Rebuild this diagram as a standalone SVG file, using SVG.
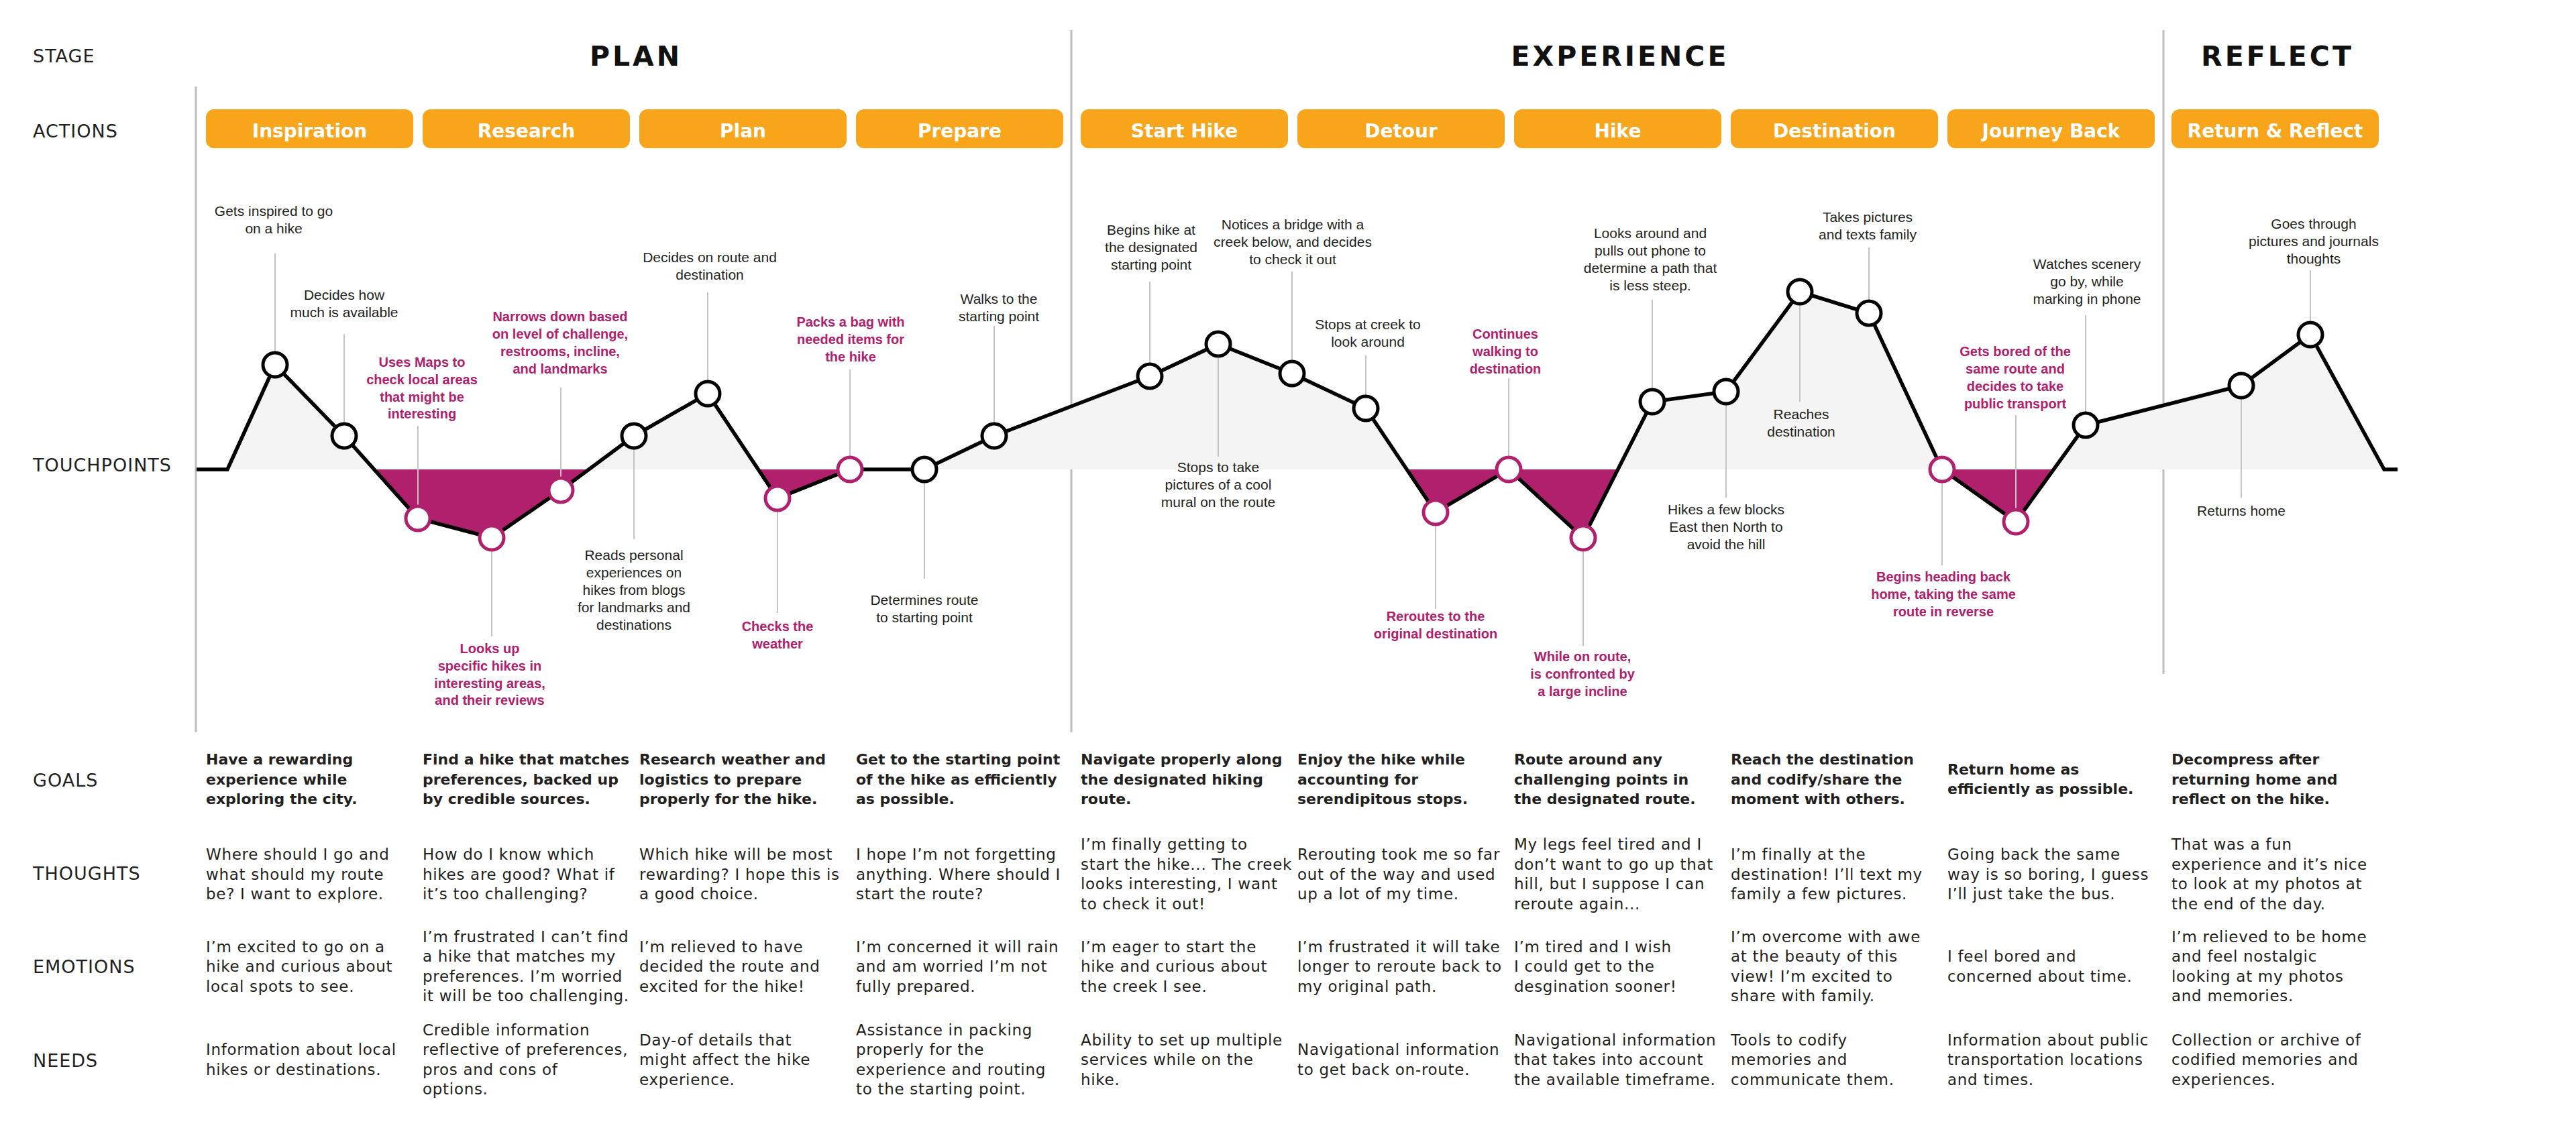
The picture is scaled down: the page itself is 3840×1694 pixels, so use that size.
<svg xmlns="http://www.w3.org/2000/svg" width="3840" height="1694" viewBox="0 0 3840 1694">
<defs>
<style>
.row{font-family:"DejaVu Sans",sans-serif;font-size:27px;fill:#231f20;letter-spacing:1px}
.stage{font-family:"DejaVu Sans",sans-serif;font-weight:bold;font-size:41px;letter-spacing:4px;text-anchor:middle;fill:#111}
.box{fill:#F8A51B}
.boxt{font-family:"DejaVu Sans",sans-serif;font-weight:bold;font-size:28px;fill:#fff;text-anchor:middle}
.div{stroke:#bcbdbf;stroke-width:3;fill:none}
.lead{stroke:#c4c4c4;stroke-width:2;fill:none}
.lb{font-family:"Liberation Sans",Arial,sans-serif;font-size:21px;fill:#231f20;text-anchor:middle}
.lp{font-family:"Liberation Sans",Arial,sans-serif;font-weight:bold;font-size:20px;fill:#B0206C;text-anchor:middle}
.nb{fill:#fff;stroke:#000;stroke-width:5}
.np{fill:#fff;stroke:#B0206C;stroke-width:5}
.gl{font-family:"DejaVu Sans",sans-serif;font-weight:bold;font-size:22px;fill:#231f20}
.tx{font-family:"DejaVu Sans",sans-serif;font-size:23px;letter-spacing:0.7px;fill:#231f20}
</style>
<clipPath id="above"><rect x="0" y="0" width="3840" height="700"/></clipPath>
<clipPath id="below"><rect x="0" y="700" width="3840" height="400"/></clipPath>
</defs>
<rect width="3840" height="1694" fill="#fff"/>

<g id="row-labels">
<text class="row" x="49" y="93">STAGE</text>
<text class="row" x="49" y="205">ACTIONS</text>
<text class="row" x="49" y="703">TOUCHPOINTS</text>
<text class="row" x="49" y="1173">GOALS</text>
<text class="row" x="49" y="1312">THOUGHTS</text>
<text class="row" x="49" y="1451">EMOTIONS</text>
<text class="row" x="49" y="1591">NEEDS</text>
</g>

<g id="stages">
<text id="stage-plan" class="stage" x="948" y="98">PLAN</text>
<text id="stage-experience" class="stage" x="2415" y="98">EXPERIENCE</text>
<text id="stage-reflect" class="stage" x="3395" y="98">REFLECT</text>
</g>

<g id="dividers">
<line class="div" x1="292" y1="129" x2="292" y2="1092"/>
<line class="div" x1="1597" y1="45" x2="1597" y2="1092"/>
<line class="div" x1="3225" y1="45" x2="3225" y2="1005"/>
</g>

<g id="actions">
<g id="action-inspiration"><rect class="box" x="307" y="163" width="309" height="58" rx="12"/><text class="boxt" x="461.5" y="205">Inspiration</text></g>
<g id="action-research"><rect class="box" x="630" y="163" width="309" height="58" rx="12"/><text class="boxt" x="784.5" y="205">Research</text></g>
<g id="action-plan"><rect class="box" x="953" y="163" width="309" height="58" rx="12"/><text class="boxt" x="1107.5" y="205">Plan</text></g>
<g id="action-prepare"><rect class="box" x="1276" y="163" width="309" height="58" rx="12"/><text class="boxt" x="1430.5" y="205">Prepare</text></g>
<g id="action-start-hike"><rect class="box" x="1611" y="163" width="309" height="58" rx="12"/><text class="boxt" x="1765.5" y="205">Start Hike</text></g>
<g id="action-detour"><rect class="box" x="1934" y="163" width="309" height="58" rx="12"/><text class="boxt" x="2088.5" y="205">Detour</text></g>
<g id="action-hike"><rect class="box" x="2257" y="163" width="309" height="58" rx="12"/><text class="boxt" x="2411.5" y="205">Hike</text></g>
<g id="action-destination"><rect class="box" x="2580" y="163" width="309" height="58" rx="12"/><text class="boxt" x="2734.5" y="205">Destination</text></g>
<g id="action-journey-back"><rect class="box" x="2903" y="163" width="309" height="58" rx="12"/><text class="boxt" x="3057.5" y="205">Journey Back</text></g>
<g id="action-return-reflect"><rect class="box" x="3237" y="163" width="309" height="58" rx="12"/><text class="boxt" x="3391.5" y="205">Return &amp; Reflect</text></g>
</g>

<g id="journey-fill">
<polygon clip-path="url(#above)" fill="#F3F4F3" points="293,700 339,700 410,544 513,650 623,773 733,802 836,731 945,650 1055,587 1159,743 1267,700 1378,700 1482,650 1714,561 1816,513 1926,557 2036,609 2140,764 2249,700 2360,802 2463,599 2573,584 2683,435 2786,467 2895,700 3005,778 3109,634 3341,575 3444,499 3554,700 3574,700"/>
<polygon clip-path="url(#below)" fill="#B0206C" points="293,700 339,700 410,544 513,650 623,773 733,802 836,731 945,650 1055,587 1159,743 1267,700 1378,700 1482,650 1714,561 1816,513 1926,557 2036,609 2140,764 2249,700 2360,802 2463,599 2573,584 2683,435 2786,467 2895,700 3005,778 3109,634 3341,575 3444,499 3554,700 3574,700"/>
</g>

<g id="connectors">
<line class="lead" x1="410" y1="378" x2="410" y2="524"/>
<line class="lead" x1="513" y1="498" x2="513" y2="630"/>
<line class="lead" x1="623" y1="635" x2="623" y2="753"/>
<line class="lead" x1="733" y1="822" x2="733" y2="949"/>
<line class="lead" x1="836" y1="578" x2="836" y2="711"/>
<line class="lead" x1="945" y1="670" x2="945" y2="804"/>
<line class="lead" x1="1055" y1="436" x2="1055" y2="567"/>
<line class="lead" x1="1159" y1="763" x2="1159" y2="914"/>
<line class="lead" x1="1267" y1="551" x2="1267" y2="680"/>
<line class="lead" x1="1378" y1="720" x2="1378" y2="863"/>
<line class="lead" x1="1482" y1="486" x2="1482" y2="630"/>
<line class="lead" x1="1714" y1="420" x2="1714" y2="541"/>
<line class="lead" x1="1816" y1="533" x2="1816" y2="681"/>
<line class="lead" x1="1926" y1="405" x2="1926" y2="537"/>
<line class="lead" x1="2036" y1="530" x2="2036" y2="589"/>
<line class="lead" x1="2140" y1="784" x2="2140" y2="908"/>
<line class="lead" x1="2249" y1="564" x2="2249" y2="680"/>
<line class="lead" x1="2360" y1="822" x2="2360" y2="963"/>
<line class="lead" x1="2463" y1="447" x2="2463" y2="579"/>
<line class="lead" x1="2573" y1="604" x2="2573" y2="742"/>
<line class="lead" x1="2683" y1="455" x2="2683" y2="599"/>
<line class="lead" x1="2786" y1="369" x2="2786" y2="447"/>
<line class="lead" x1="2895" y1="720" x2="2895" y2="843"/>
<line class="lead" x1="3005" y1="619" x2="3005" y2="758"/>
<line class="lead" x1="3109" y1="470" x2="3109" y2="614"/>
<line class="lead" x1="3341" y1="595" x2="3341" y2="742"/>
<line class="lead" x1="3444" y1="403" x2="3444" y2="479"/>
<polyline id="journey-line" fill="none" stroke="#000" stroke-width="5.5" stroke-linejoin="miter" points="293,700 339,700 410,544 513,650 623,773 733,802 836,731 945,650 1055,587 1159,743 1267,700 1378,700 1482,650 1714,561 1816,513 1926,557 2036,609 2140,764 2249,700 2360,802 2463,599 2573,584 2683,435 2786,467 2895,700 3005,778 3109,634 3341,575 3444,499 3554,700 3574,700"/>
</g>

<g id="touchpoints">
<g id="tp-inspired"><circle class="nb" cx="410" cy="544" r="18"/><text class="lb" x="408"><tspan x="408" y="322">Gets inspired to go</tspan><tspan x="408" y="348">on a hike</tspan></text></g>
<g id="tp-time"><circle class="nb" cx="513" cy="650" r="18"/><text class="lb"><tspan x="513" y="447">Decides how</tspan><tspan x="513" y="473">much is available</tspan></text></g>
<g id="tp-maps"><circle class="np" cx="623" cy="773" r="18"/><text class="lp"><tspan x="629" y="547">Uses Maps to</tspan><tspan x="629" y="573">check local areas</tspan><tspan x="629" y="599">that might be</tspan><tspan x="629" y="624">interesting</tspan></text></g>
<g id="tp-looks-up"><circle class="np" cx="733" cy="802" r="18"/><text class="lp"><tspan x="730" y="974">Looks up</tspan><tspan x="730" y="1000">specific hikes in</tspan><tspan x="730" y="1026">interesting areas,</tspan><tspan x="730" y="1051">and their reviews</tspan></text></g>
<g id="tp-narrows"><circle class="np" cx="836" cy="731" r="18"/><text class="lp"><tspan x="835" y="479">Narrows down based</tspan><tspan x="835" y="505">on level of challenge,</tspan><tspan x="835" y="531">restrooms, incline,</tspan><tspan x="835" y="557">and landmarks</tspan></text></g>
<g id="tp-reads"><circle class="nb" cx="945" cy="650" r="18"/><text class="lb"><tspan x="945" y="835">Reads personal</tspan><tspan x="945" y="861">experiences on</tspan><tspan x="945" y="887">hikes from blogs</tspan><tspan x="945" y="913">for landmarks and</tspan><tspan x="945" y="939">destinations</tspan></text></g>
<g id="tp-decides-route"><circle class="nb" cx="1055" cy="587" r="18"/><text class="lb"><tspan x="1058" y="391">Decides on route and</tspan><tspan x="1058" y="417">destination</tspan></text></g>
<g id="tp-weather"><circle class="np" cx="1159" cy="743" r="18"/><text class="lp"><tspan x="1159" y="941">Checks the</tspan><tspan x="1159" y="967">weather</tspan></text></g>
<g id="tp-packs"><circle class="np" cx="1267" cy="700" r="18"/><text class="lp"><tspan x="1268" y="487">Packs a bag with</tspan><tspan x="1268" y="513">needed items for</tspan><tspan x="1268" y="539">the hike</tspan></text></g>
<g id="tp-determines"><circle class="nb" cx="1378" cy="700" r="18"/><text class="lb"><tspan x="1378" y="902">Determines route</tspan><tspan x="1378" y="928">to starting point</tspan></text></g>
<g id="tp-walks"><circle class="nb" cx="1482" cy="650" r="18"/><text class="lb"><tspan x="1489" y="453">Walks to the</tspan><tspan x="1489" y="479">starting point</tspan></text></g>
<g id="tp-begins"><circle class="nb" cx="1714" cy="561" r="18"/><text class="lb"><tspan x="1716" y="350">Begins hike at</tspan><tspan x="1716" y="376">the designated</tspan><tspan x="1716" y="402">starting point</tspan></text></g>
<g id="tp-mural"><circle class="nb" cx="1816" cy="513" r="18"/><text class="lb"><tspan x="1816" y="704">Stops to take</tspan><tspan x="1816" y="730">pictures of a cool</tspan><tspan x="1816" y="756">mural on the route</tspan></text></g>
<g id="tp-bridge"><circle class="nb" cx="1926" cy="557" r="18"/><text class="lb"><tspan x="1927" y="342">Notices a bridge with a</tspan><tspan x="1927" y="368">creek below, and decides</tspan><tspan x="1927" y="394">to check it out</tspan></text></g>
<g id="tp-creek"><circle class="nb" cx="2036" cy="609" r="18"/><text class="lb"><tspan x="2039" y="491">Stops at creek to</tspan><tspan x="2039" y="517">look around</tspan></text></g>
<g id="tp-reroutes"><circle class="np" cx="2140" cy="764" r="18"/><text class="lp"><tspan x="2140" y="926">Reroutes to the</tspan><tspan x="2140" y="952">original destination</tspan></text></g>
<g id="tp-continues"><circle class="np" cx="2249" cy="700" r="18"/><text class="lp"><tspan x="2244" y="505">Continues</tspan><tspan x="2244" y="531">walking to</tspan><tspan x="2244" y="557">destination</tspan></text></g>
<g id="tp-incline"><circle class="np" cx="2360" cy="802" r="18"/><text class="lp"><tspan x="2359" y="986">While on route,</tspan><tspan x="2359" y="1012">is confronted by</tspan><tspan x="2359" y="1038">a large incline</tspan></text></g>
<g id="tp-looks-around"><circle class="nb" cx="2463" cy="599" r="18"/><text class="lb"><tspan x="2460" y="355">Looks around and</tspan><tspan x="2460" y="381">pulls out phone to</tspan><tspan x="2460" y="407">determine a path that</tspan><tspan x="2460" y="433">is less steep.</tspan></text></g>
<g id="tp-blocks"><circle class="nb" cx="2573" cy="584" r="18"/><text class="lb"><tspan x="2573" y="767">Hikes a few blocks</tspan><tspan x="2573" y="793">East then North to</tspan><tspan x="2573" y="819">avoid the hill</tspan></text></g>
<g id="tp-reaches"><circle class="nb" cx="2683" cy="435" r="18"/><text class="lb"><tspan x="2685" y="625">Reaches</tspan><tspan x="2685" y="651">destination</tspan></text></g>
<g id="tp-pictures"><circle class="nb" cx="2786" cy="467" r="18"/><text class="lb"><tspan x="2784" y="331">Takes pictures</tspan><tspan x="2784" y="357">and texts family</tspan></text></g>
<g id="tp-heading-back"><circle class="np" cx="2895" cy="700" r="18"/><text class="lp"><tspan x="2897" y="867">Begins heading back</tspan><tspan x="2897" y="893">home, taking the same</tspan><tspan x="2897" y="919">route in reverse</tspan></text></g>
<g id="tp-bored"><circle class="np" cx="3005" cy="778" r="18"/><text class="lp"><tspan x="3004" y="531">Gets bored of the</tspan><tspan x="3004" y="557">same route and</tspan><tspan x="3004" y="583">decides to take</tspan><tspan x="3004" y="609">public transport</tspan></text></g>
<g id="tp-scenery"><circle class="nb" cx="3109" cy="634" r="18"/><text class="lb"><tspan x="3111" y="401">Watches scenery</tspan><tspan x="3111" y="427">go by, while</tspan><tspan x="3111" y="453">marking in phone</tspan></text></g>
<g id="tp-home"><circle class="nb" cx="3341" cy="575" r="18"/><text class="lb"><tspan x="3341" y="769">Returns home</tspan></text></g>
<g id="tp-journals"><circle class="nb" cx="3444" cy="499" r="18"/><text class="lb"><tspan x="3449" y="341">Goes through</tspan><tspan x="3449" y="367">pictures and journals</tspan><tspan x="3449" y="393">thoughts</tspan></text></g>
</g>

<g id="goals">
<text class="gl"><tspan x="307" y="1140">Have a rewarding</tspan><tspan x="307" y="1169.5">experience while</tspan><tspan x="307" y="1199">exploring the city.</tspan></text>
<text class="gl"><tspan x="630" y="1140">Find a hike that matches</tspan><tspan x="630" y="1169.5">preferences, backed up</tspan><tspan x="630" y="1199">by credible sources.</tspan></text>
<text class="gl"><tspan x="953" y="1140">Research weather and</tspan><tspan x="953" y="1169.5">logistics to prepare</tspan><tspan x="953" y="1199">properly for the hike.</tspan></text>
<text class="gl"><tspan x="1276" y="1140">Get to the starting point</tspan><tspan x="1276" y="1169.5">of the hike as efficiently</tspan><tspan x="1276" y="1199">as possible.</tspan></text>
<text class="gl"><tspan x="1611" y="1140">Navigate properly along</tspan><tspan x="1611" y="1169.5">the designated hiking</tspan><tspan x="1611" y="1199">route.</tspan></text>
<text class="gl"><tspan x="1934" y="1140">Enjoy the hike while</tspan><tspan x="1934" y="1169.5">accounting for</tspan><tspan x="1934" y="1199">serendipitous stops.</tspan></text>
<text class="gl"><tspan x="2257" y="1140">Route around any</tspan><tspan x="2257" y="1169.5">challenging points in</tspan><tspan x="2257" y="1199">the designated route.</tspan></text>
<text class="gl"><tspan x="2580" y="1140">Reach the destination</tspan><tspan x="2580" y="1169.5">and codify/share the</tspan><tspan x="2580" y="1199">moment with others.</tspan></text>
<text class="gl"><tspan x="2903" y="1154.75">Return home as</tspan><tspan x="2903" y="1184.25">efficiently as possible.</tspan></text>
<text class="gl"><tspan x="3237" y="1140">Decompress after</tspan><tspan x="3237" y="1169.5">returning home and</tspan><tspan x="3237" y="1199">reflect on the hike.</tspan></text>
</g>

<g id="thoughts">
<text class="tx"><tspan x="307" y="1282">Where should I go and</tspan><tspan x="307" y="1311.5">what should my route</tspan><tspan x="307" y="1341">be? I want to explore.</tspan></text>
<text class="tx"><tspan x="630" y="1282">How do I know which</tspan><tspan x="630" y="1311.5">hikes are good? What if</tspan><tspan x="630" y="1341">it’s too challenging?</tspan></text>
<text class="tx"><tspan x="953" y="1282">Which hike will be most</tspan><tspan x="953" y="1311.5">rewarding? I hope this is</tspan><tspan x="953" y="1341">a good choice.</tspan></text>
<text class="tx"><tspan x="1276" y="1282">I hope I’m not forgetting</tspan><tspan x="1276" y="1311.5">anything. Where should I</tspan><tspan x="1276" y="1341">start the route?</tspan></text>
<text class="tx"><tspan x="1611" y="1267.25">I’m finally getting to</tspan><tspan x="1611" y="1296.75">start the hike... The creek</tspan><tspan x="1611" y="1326.25">looks interesting, I want</tspan><tspan x="1611" y="1355.75">to check it out!</tspan></text>
<text class="tx"><tspan x="1934" y="1282">Rerouting took me so far</tspan><tspan x="1934" y="1311.5">out of the way and used</tspan><tspan x="1934" y="1341">up a lot of my time.</tspan></text>
<text class="tx"><tspan x="2257" y="1267.25">My legs feel tired and I</tspan><tspan x="2257" y="1296.75">don’t want to go up that</tspan><tspan x="2257" y="1326.25">hill, but I suppose I can</tspan><tspan x="2257" y="1355.75">reroute again...</tspan></text>
<text class="tx"><tspan x="2580" y="1282">I’m finally at the</tspan><tspan x="2580" y="1311.5">destination! I’ll text my</tspan><tspan x="2580" y="1341">family a few pictures.</tspan></text>
<text class="tx"><tspan x="2903" y="1282">Going back the same</tspan><tspan x="2903" y="1311.5">way is so boring, I guess</tspan><tspan x="2903" y="1341">I’ll just take the bus.</tspan></text>
<text class="tx"><tspan x="3237" y="1267.25">That was a fun</tspan><tspan x="3237" y="1296.75">experience and it’s nice</tspan><tspan x="3237" y="1326.25">to look at my photos at</tspan><tspan x="3237" y="1355.75">the end of the day.</tspan></text>
</g>

<g id="emotions">
<text class="tx"><tspan x="307" y="1419.5">I’m excited to go on a</tspan><tspan x="307" y="1449">hike and curious about</tspan><tspan x="307" y="1478.5">local spots to see.</tspan></text>
<text class="tx"><tspan x="630" y="1404.75">I’m frustrated I can’t find</tspan><tspan x="630" y="1434.25">a hike that matches my</tspan><tspan x="630" y="1463.75">preferences. I’m worried</tspan><tspan x="630" y="1493.25">it will be too challenging.</tspan></text>
<text class="tx"><tspan x="953" y="1419.5">I’m relieved to have</tspan><tspan x="953" y="1449">decided the route and</tspan><tspan x="953" y="1478.5">excited for the hike!</tspan></text>
<text class="tx"><tspan x="1276" y="1419.5">I’m concerned it will rain</tspan><tspan x="1276" y="1449">and am worried I’m not</tspan><tspan x="1276" y="1478.5">fully prepared.</tspan></text>
<text class="tx"><tspan x="1611" y="1419.5">I’m eager to start the</tspan><tspan x="1611" y="1449">hike and curious about</tspan><tspan x="1611" y="1478.5">the creek I see.</tspan></text>
<text class="tx"><tspan x="1934" y="1419.5">I’m frustrated it will take</tspan><tspan x="1934" y="1449">longer to reroute back to</tspan><tspan x="1934" y="1478.5">my original path.</tspan></text>
<text class="tx"><tspan x="2257" y="1419.5">I’m tired and I wish</tspan><tspan x="2257" y="1449">I could get to the</tspan><tspan x="2257" y="1478.5">desgination sooner!</tspan></text>
<text class="tx"><tspan x="2580" y="1404.75">I’m overcome with awe</tspan><tspan x="2580" y="1434.25">at the beauty of this</tspan><tspan x="2580" y="1463.75">view! I’m excited to</tspan><tspan x="2580" y="1493.25">share with family.</tspan></text>
<text class="tx"><tspan x="2903" y="1434.25">I feel bored and</tspan><tspan x="2903" y="1463.75">concerned about time.</tspan></text>
<text class="tx"><tspan x="3237" y="1404.75">I’m relieved to be home</tspan><tspan x="3237" y="1434.25">and feel nostalgic</tspan><tspan x="3237" y="1463.75">looking at my photos</tspan><tspan x="3237" y="1493.25">and memories.</tspan></text>
</g>

<g id="needs">
<text class="tx"><tspan x="307" y="1573.25">Information about local</tspan><tspan x="307" y="1602.75">hikes or destinations.</tspan></text>
<text class="tx"><tspan x="630" y="1543.75">Credible information</tspan><tspan x="630" y="1573.25">reflective of preferences,</tspan><tspan x="630" y="1602.75">pros and cons of</tspan><tspan x="630" y="1632.25">options.</tspan></text>
<text class="tx"><tspan x="953" y="1558.5">Day-of details that</tspan><tspan x="953" y="1588">might affect the hike</tspan><tspan x="953" y="1617.5">experience.</tspan></text>
<text class="tx"><tspan x="1276" y="1543.75">Assistance in packing</tspan><tspan x="1276" y="1573.25">properly for the</tspan><tspan x="1276" y="1602.75">experience and routing</tspan><tspan x="1276" y="1632.25">to the starting point.</tspan></text>
<text class="tx"><tspan x="1611" y="1558.5">Ability to set up multiple</tspan><tspan x="1611" y="1588">services while on the</tspan><tspan x="1611" y="1617.5">hike.</tspan></text>
<text class="tx"><tspan x="1934" y="1573.25">Navigational information</tspan><tspan x="1934" y="1602.75">to get back on-route.</tspan></text>
<text class="tx"><tspan x="2257" y="1558.5">Navigational information</tspan><tspan x="2257" y="1588">that takes into account</tspan><tspan x="2257" y="1617.5">the available timeframe.</tspan></text>
<text class="tx"><tspan x="2580" y="1558.5">Tools to codify</tspan><tspan x="2580" y="1588">memories and</tspan><tspan x="2580" y="1617.5">communicate them.</tspan></text>
<text class="tx"><tspan x="2903" y="1558.5">Information about public</tspan><tspan x="2903" y="1588">transportation locations</tspan><tspan x="2903" y="1617.5">and times.</tspan></text>
<text class="tx"><tspan x="3237" y="1558.5">Collection or archive of</tspan><tspan x="3237" y="1588">codified memories and</tspan><tspan x="3237" y="1617.5">experiences.</tspan></text>
</g>
</svg>
